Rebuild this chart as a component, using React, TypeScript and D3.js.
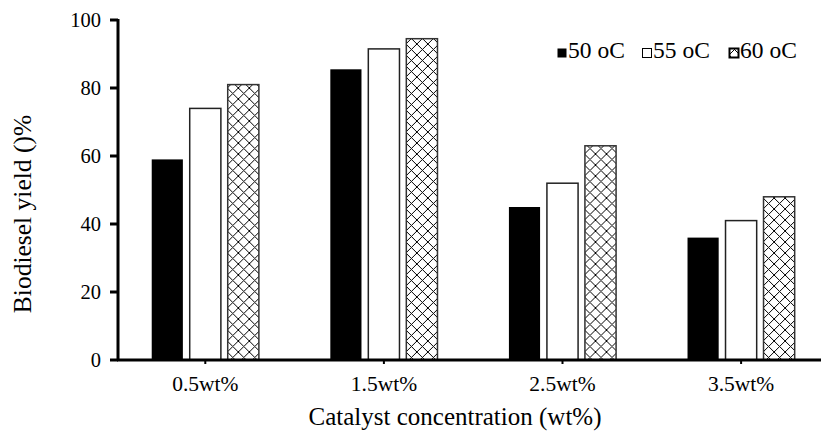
import React from 'react';
import * as d3 from 'd3';

const categories = ['0.5wt%', '1.5wt%', '2.5wt%', '3.5wt%'];
const seriesNames = ['50 oC', '55 oC', '60 oC'];
const yield50 = [59, 85.5, 45, 36];
const yield55 = [74, 91.5, 52, 41];
const yield60 = [81, 94.5, 63, 48];
const yTicks = [0, 20, 40, 60, 80, 100];

const seriesValues = [yield50, yield55, yield60];

const w = 821;
const h = 431;
const font = '"Liberation Serif", "Times New Roman", serif';

const App = () => {
  const xScale = d3.scaleBand<string>()
    .domain(categories)
    .range([116, 830.4]);

  const subScale = d3.scaleBand<string>()
    .domain(seriesNames)
    .range([-57, 57])
    .paddingInner(0.18)
    .paddingOuter(0.09);

  const yScale = d3.scaleLinear()
    .domain([0, 100])
    .range([360, 20]);

  const fills = ['#000', '#fff', 'url(#diamonds)'];
  const strokes = ['none', '#222', '#333'];

  const legendX = [557, 642, 729];

  return (
    <svg width={w} height={h} style={{ position: 'absolute', left: 0, top: 0 }} fontFamily={font}>
      <defs>
        <pattern id="diamonds" patternUnits="userSpaceOnUse" width={11} height={11}>
          <rect width={11} height={11} fill="#fff" />
          <path d="M0,0L11,11M11,0L0,11" stroke="#000" strokeWidth={1.2} shapeRendering="crispEdges" />
        </pattern>
      </defs>

      {/* bars */}
      {categories.map((c, i) => (
        <g key={c} transform={`translate(${xScale(c)! + xScale.bandwidth() / 2},0)`}>
          {seriesNames.map((s, j) => {
            const v = seriesValues[j][i];
            return (
              <rect
                key={s}
                x={subScale(s)}
                y={yScale(v)}
                width={subScale.bandwidth()}
                height={yScale(0) - yScale(v)}
                fill={fills[j]}
                stroke={strokes[j]}
                strokeWidth={1.5}
              />
            );
          })}
        </g>
      ))}

      {/* y axis */}
      <line x1={118} x2={118} y1={yScale(100) - 1} y2={yScale(0)} stroke="#000" strokeWidth={3} />
      {yTicks.map(t => (
        <g key={t}>
          <line x1={110} x2={118} y1={yScale(t)} y2={yScale(t)} stroke="#000" strokeWidth={3} />
          <text x={101} y={yScale(t)} dy="0.35em" textAnchor="end" fontSize={20.5}>{t}</text>
        </g>
      ))}

      {/* x axis */}
      <line x1={117} x2={w} y1={yScale(0)} y2={yScale(0)} stroke="#000" strokeWidth={3} />
      {categories.map(c => {
        const cx = xScale(c)! + xScale.bandwidth() / 2;
        return (
          <g key={c}>
            <line x1={cx} x2={cx} y1={360} y2={364} stroke="#000" strokeWidth={2} />
            <text x={cx} y={391} textAnchor="middle" fontSize={21.5}>{c}</text>
          </g>
        );
      })}

      <text x={455} y={425} textAnchor="middle" fontSize={25}>Catalyst concentration (wt%)</text>
      <text transform="translate(31,214) rotate(-90)" textAnchor="middle" fontSize={25.5}>Biodiesel yield ()%</text>

      {/* legend */}
      {seriesNames.map((s, j) => (
        <g key={s} transform={`translate(${legendX[j]},0)`}>
          <rect x={0.5} y={48.5} width={9} height={9} fill={fills[j]} stroke={j === 0 ? 'none' : '#000'} strokeWidth={j === 2 ? 2 : 1} />
          <text x={11} y={58} fontSize={23.5}>{s}</text>
        </g>
      ))}
    </svg>
  );
};

export default App;
